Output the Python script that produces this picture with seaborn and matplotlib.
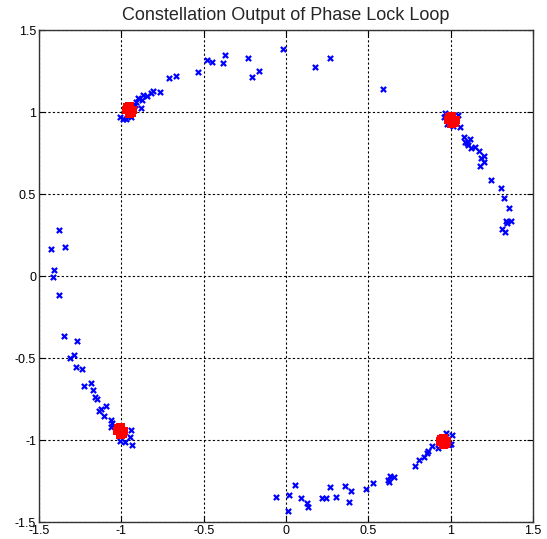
import matplotlib
matplotlib.use("Agg")
import matplotlib.pyplot as plt
import seaborn as sns
import pandas as pd

# Received (blue) symbols
blue_x = [-1.009, -0.989, -0.970, -0.940, -0.918, -0.908, -0.898, -0.883, -0.877, -0.867,
          -0.847, -0.821, -0.807, -0.766, -0.711, -0.669, -0.535, -0.478, -0.450, -0.381,
          -0.371, -0.233, -0.209, -0.162, -0.016, 0.176, 0.269, 0.592,
          0.967, 0.960, 0.977, 1.013, 1.058, 1.044, 1.084, 1.119, 1.098, 1.090, 1.105,
          1.123, 1.149, 1.175, 1.200, 1.184, 1.200, 1.179, 1.242, 1.305, 1.325, 1.354,
          1.337, 1.368, 1.342, 1.311, 1.331,
          -1.378, -1.429, -1.343, -1.410, -1.416, -1.378, -1.350, -1.269, -1.289, -1.309,
          -1.277, -1.238, -1.228, -1.187, -1.175, -1.157, -1.147, -1.135, -1.125, -1.094,
          -1.105, -1.060, -1.056, -1.064, -0.942, -0.948, -0.979, -1.009, -0.934, -1.030,
          -0.063, 0.014, 0.020, 0.055, 0.091, 0.130, 0.136, 0.217, 0.243, 0.267,
          0.304, 0.357, 0.393, 0.385, 0.486, 0.527, 0.620, 0.624, 0.632, 0.658,
          0.784, 0.810, 0.839, 0.855, 0.865, 0.889, 0.973, 1.007, 1.001, 0.926, 0.990]
blue_y = [0.968, 0.955, 0.960, 0.970, 1.043, 1.063, 1.083, 1.026, 1.073, 1.104,
          1.099, 1.118, 1.130, 1.122, 1.209, 1.220, 1.244, 1.315, 1.307, 1.297,
          1.348, 1.331, 1.215, 1.250, 1.382, 1.273, 1.331, 1.138,
          0.992, 0.967, 0.927, 0.915, 0.907, 0.982, 0.850, 0.833, 0.809, 0.815, 0.800,
          0.779, 0.789, 0.762, 0.732, 0.718, 0.697, 0.671, 0.585, 0.535, 0.474, 0.417,
          0.335, 0.335, 0.325, 0.285, 0.266,
          0.279, 0.167, 0.179, 0.035, -0.008, -0.118, -0.368, -0.398, -0.480, -0.502,
          -0.553, -0.567, -0.671, -0.654, -0.695, -0.736, -0.752, -0.821, -0.811, -0.793,
          -0.854, -0.878, -0.898, -0.919, -0.939, -0.980, -1.010, -1.004, -1.030, -0.930,
          -1.346, -1.433, -1.335, -1.276, -1.352, -1.386, -1.407, -1.356, -1.356, -1.285,
          -1.346, -1.283, -1.311, -1.376, -1.299, -1.264, -1.244, -1.254, -1.218, -1.224,
          -1.159, -1.122, -1.102, -1.077, -1.065, -1.037, -0.955, -0.972, -1.027, -1.047, -1.030]

# Locked (red) symbols
red_x = [-0.952, -0.972, -0.932, -0.952, -0.952, -0.966, -0.938,
         1.007, 0.987, 1.027, 1.007, 1.007, 0.993, 1.021,
         -1.005, -1.025, -0.985, -1.005, -1.005, -1.019, -0.991,
         0.956, 0.936, 0.976, 0.956, 0.956, 0.942, 0.970]
red_y = [1.012, 1.012, 1.012, 1.032, 0.992, 1.026, 0.998,
         0.951, 0.951, 0.951, 0.971, 0.931, 0.965, 0.937,
         -0.945, -0.945, -0.945, -0.925, -0.965, -0.931, -0.959,
         -1.008, -1.008, -1.008, -0.988, -1.028, -0.994, -1.022]

ticks = [-1.5, -1, -0.5, 0, 0.5, 1, 1.5]
tick_labels = ["-1.5", "-1", "-0.5", "0", "0.5", "1", "1.5"]
title = "Constellation Output of Phase Lock Loop"

sns.set_style("white")
plt.rcParams['font.family'] = ['Liberation Sans', 'DejaVu Sans']

fig = plt.figure(figsize=(5.47, 5.39), dpi=100)
ax = fig.add_axes([0.0713, 0.0315, 0.9031, 0.9128])

blue_df = pd.DataFrame({"x": blue_x, "y": blue_y})
red_df = pd.DataFrame({"x": red_x, "y": red_y})

sns.scatterplot(data=blue_df, x="x", y="y", ax=ax, marker="x", color="#0000ff",
                s=14, linewidth=1.6, zorder=3)
sns.scatterplot(data=red_df, x="x", y="y", ax=ax, marker="s", color="#ff0000",
                s=40, linewidth=0, edgecolor="none", zorder=4)

ax.set_xlim(-1.5, 1.5)
ax.set_ylim(-1.5, 1.5)
ax.set_xticks(ticks)
ax.set_xticklabels(tick_labels)
ax.set_yticks(ticks)
ax.set_yticklabels(tick_labels)
ax.set_xlabel("")
ax.set_ylabel("")
ax.grid(True, color="black", linestyle=(0, (2, 2)), linewidth=0.8)
ax.set_axisbelow(True)
ax.tick_params(direction="in", length=4, width=0.8, labelsize=9, colors="black",
               top=True, right=True, bottom=True, left=True, pad=2)
for sp in ax.spines.values():
    sp.set_visible(True)
    sp.set_color("#333333")
    sp.set_linewidth(1.0)
ax.set_title(title, fontsize=13, pad=7)

fig.savefig("out.png", dpi=100)
